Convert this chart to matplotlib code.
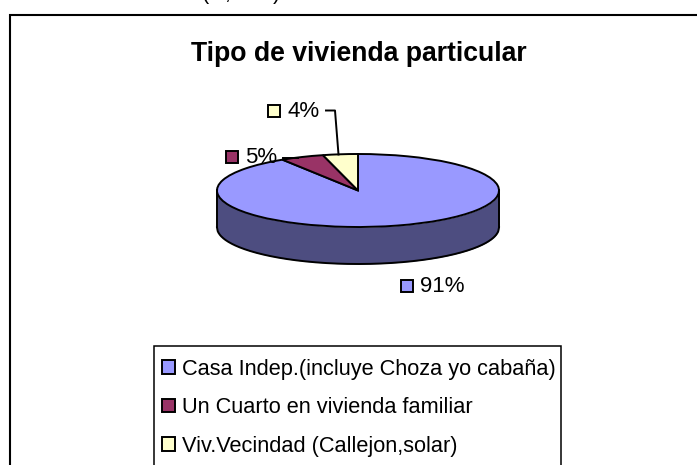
import numpy as np
import matplotlib
matplotlib.use("Agg")
import matplotlib.pyplot as plt
from matplotlib.lines import Line2D
from matplotlib.patches import Rectangle
from matplotlib.transforms import Affine2D

# Data
categories = ["Casa Indep.(incluye Choza yo cabaña)",
              "Un Cuarto en vivienda familiar",
              "Viv.Vecindad (Callejon,solar)"]
values = [91, 5, 4]
colors = ["#9999FF", "#993366", "#FFFFCC"]
title = "Tipo de vivienda particular"

# Layout (pixels)
W, H = 697, 465
CX, CY, RX, RY, DEPTH = 358, 190.5, 141, 36.5, 37
FS = 15.65
LABEL_FS = 16
EDGE = 1.4

plt.rcParams["font.family"] = ["Liberation Sans", "DejaVu Sans"]
fig = plt.figure(figsize=(W / 100, H / 100), dpi=100, facecolor="white")
ax = fig.add_axes([0, 0, 1, 1])
px = Affine2D().scale(1, -1).translate(0, H)  # pixels, y down

# side of the pie
x = np.linspace(-1, 1, 400)
low = -np.sqrt(1 - x ** 2)
d = DEPTH / RY
ax.fill_between(x, low, low - d, color="#4D4D80", lw=0, zorder=1)
ax.plot(x, low - d, color="black", lw=EDGE, zorder=2)
ax.plot([-1, -1], [0, -d], color="black", lw=EDGE, zorder=2)
ax.plot([1, 1], [0, -d], color="black", lw=EDGE, zorder=2)

wedges, _ = ax.pie(values, colors=colors, startangle=90, counterclock=False,
                   radius=1, wedgeprops=dict(edgecolor="black", linewidth=EDGE, zorder=3))
ax.set_aspect("auto")
ax.set_xlim(-CX / RX, (W - CX) / RX)
ax.set_ylim((CY - H) / RY, CY / RY)
ax.axis("off")


def tag(text, mx, my, tx, color):
    ax.add_patch(Rectangle((mx, my), 12, 12, transform=px, facecolor=color,
                           edgecolor="black", lw=EDGE, zorder=5, clip_on=False))
    ax.text(tx, my + 6.5, text, transform=px, fontsize=LABEL_FS, va="center", ha="left",
            color="black", zorder=6)


total = sum(values)
label_pos = [(400.5, 279.5, 420), (226, 151, 245.5), (268, 104.5, 287.5)]
for v, c, (mx, my, tx) in zip(values, colors, label_pos):
    tag(f"{round(100 * v / total)}%", mx, my, tx, c)

# leader lines
ax.add_line(Line2D([326, 335, 338.5], [110.5, 110.5, 154.5], transform=px, color="black",
                   lw=EDGE, zorder=6))
ax.add_line(Line2D([283, 298], [158, 158], transform=px, color="black", lw=EDGE, zorder=6))

# title
ax.text(358.5, 53.5, title, transform=px, fontsize=19.2, fontweight="bold",
        ha="center", va="center", color="black")

# clipped remains of a caption above the frame
for ch, xp in [("(", 205), (",", 227), (")", 276)]:
    ax.text(xp, -1, ch, transform=px, fontsize=FS, ha="center", va="baseline", color="black")

# outer frame: left and top sides only are in view
ax.add_line(Line2D([10, 10, W], [H, 14.5, 14.5], transform=px, color="black", lw=1.5, zorder=7,
                   solid_joinstyle="miter"))

# legend box and entries
ax.add_patch(Rectangle((154, 346), 407, 125, transform=px, facecolor="white",
                       edgecolor="black", lw=1.1, zorder=7, clip_on=True))
leg = ax.legend(wedges, categories, loc="upper left",
                bbox_to_anchor=(162 / W, 1 - 358.5 / H), bbox_transform=fig.transFigure,
                fontsize=FS, frameon=False,
                handlelength=0.58, handleheight=0.58, handletextpad=0.36,
                labelspacing=0.81, borderpad=0, borderaxespad=0, labelcolor="black")
leg.set_zorder(8)

fig.savefig("out.png", dpi=100, facecolor="white")
